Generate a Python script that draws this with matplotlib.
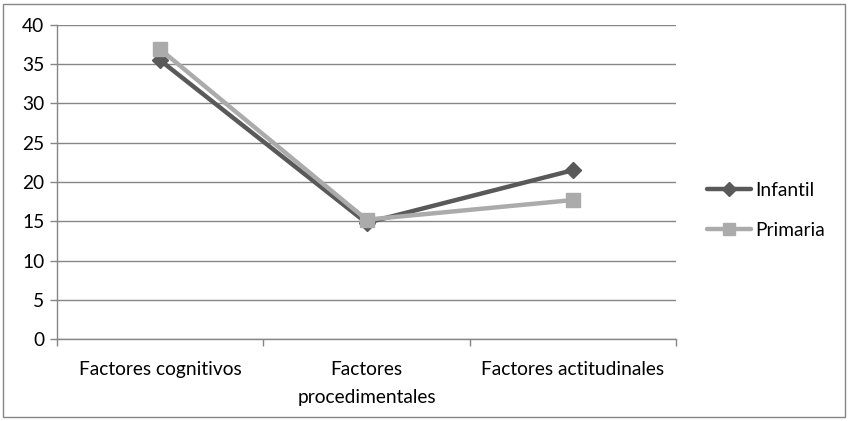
import matplotlib
matplotlib.use("Agg")
import matplotlib.pyplot as plt
from matplotlib.patches import Rectangle

categories = ["Factores cognitivos", "Factores\nprocedimentales", "Factores actitudinales"]
infantil = [35.5, 14.8, 21.5]
primaria = [36.9, 15.2, 17.7]
yticks = [0, 5, 10, 15, 20, 25, 30, 35, 40]

plt.rcParams['font.family'] = ['Lato', 'DejaVu Sans']
FS = 13.8

fig = plt.figure(figsize=(8.5, 4.21), dpi=100)
ax = fig.add_axes([57/850, 82/421, (676-57)/850, (339-25)/421])

x = list(range(len(categories)))
ax.plot(x, infantil, color='#595959', lw=3.2, marker='D', ms=8.5,
        solid_capstyle='round', label='Infantil', zorder=3)
ax.plot(x, primaria, color='#ababab', lw=3.2, marker='s', ms=10,
        solid_capstyle='round', label='Primaria', zorder=4)

ax.set_xlim(-0.5, len(categories) - 0.5)
ax.set_ylim(0, 40)
ax.set_yticks(yticks)
ax.set_yticklabels([str(v) for v in yticks])
ax.set_xticks(x)
ax.set_xticks([i - 0.5 for i in range(len(categories) + 1)], minor=True)
ax.set_xticklabels(categories)
ax.tick_params(axis='x', which='major', length=0, pad=16, labelsize=FS)
ax.tick_params(axis='x', which='minor', length=5, color='#868686', width=1)
ax.tick_params(axis='y', length=5, color='#868686', width=1, labelsize=FS, pad=4)
for lab in ax.get_xticklabels(which='major'):
    lab.set_linespacing(1.8)

ax.grid(axis='y', color='#868686', lw=1)
ax.set_axisbelow(True)
for s in ['top', 'right']:
    ax.spines[s].set_visible(False)
for s in ['left', 'bottom']:
    ax.spines[s].set_color('#868686')
    ax.spines[s].set_linewidth(1)

leg = ax.legend(loc='center left', bbox_to_anchor=(707/850, 210.5/421),
                bbox_transform=fig.transFigure, frameon=False, fontsize=FS,
                handlelength=2.3, handletextpad=0.2, labelspacing=1.2,
                borderpad=0, borderaxespad=0, markerscale=0.85)

fig.patches.append(Rectangle((3/850, 4/421), 842/850, 413/421, transform=fig.transFigure,
                             fill=False, edgecolor='#868686', lw=1))

fig.savefig("out.png", dpi=100)
